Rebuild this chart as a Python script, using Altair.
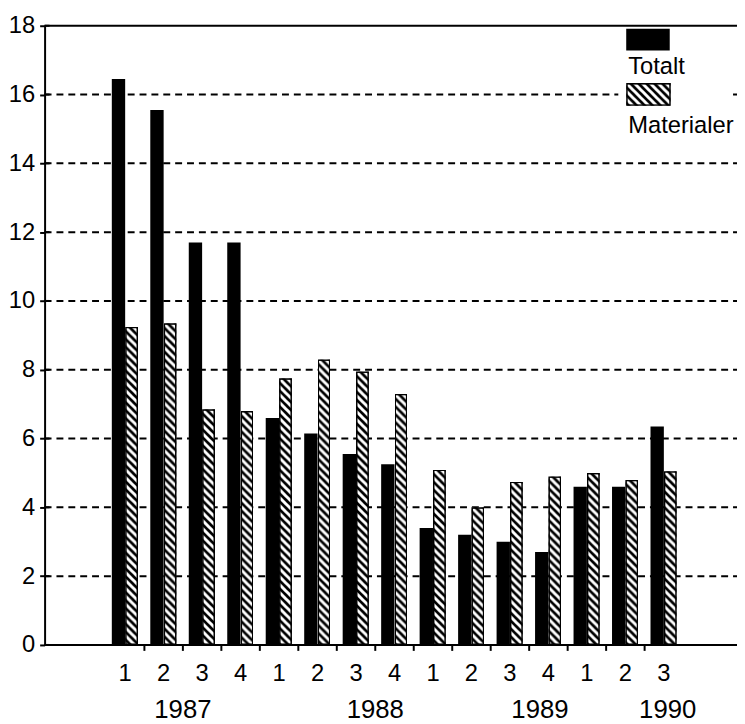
import urllib.parse
import altair as alt
import pandas as pd

# ---------------- data ----------------
years = ["1987"] * 4 + ["1988"] * 4 + ["1989"] * 4 + ["1990"] * 3
quarters = ["1", "2", "3", "4", "1", "2", "3", "4", "1", "2", "3", "4", "1", "2", "3"]
totalt = [16.45, 15.55, 11.7, 11.7, 6.6, 6.15, 5.55, 5.25, 3.4, 3.2, 3.0, 2.7, 4.6, 4.6, 6.35]
materialer = [9.25, 9.35, 6.85, 6.8, 7.75, 8.3, 7.95, 7.3, 5.1, 4.0, 4.75, 4.9, 5.0, 4.8, 5.05]
series = ["Totalt", "Materialer"]
year_labels = ["1987", "1988", "1989", "1990"]
year_anchor = ["1987-3", "1988-4", "1989-4", "1990-3"]
y_ticks = [0, 2, 4, 6, 8, 10, 12, 14, 16, 18]

# layout (fraction of a quarter band where each year label sits)
year_shift = [0.0, 0.0, 0.28, 0.6]

cats = [f"{y}-{q}" for y, q in zip(years, quarters)]
df = pd.DataFrame({"period": cats, "Totalt": totalt, "Materialer": materialer})
year_df = pd.DataFrame({"year": year_labels, "period": year_anchor, "shift": year_shift})
tick_df = pd.DataFrame({"v": y_ticks})
one = pd.DataFrame({"k": [0]})

FONT = "Liberation Sans"
BAND = 38.9
W, H = 700, 626

hatch_svg = (
    "<svg xmlns='http://www.w3.org/2000/svg' width='100%' height='100%'>"
    "<defs><pattern id='h' patternUnits='userSpaceOnUse' width='8' height='8'>"
    "<rect width='8' height='8' fill='black'/>"
    "<path d='M-2,-2L10,10M-10,-2L2,10M6,-2L18,10' stroke='white' stroke-width='3'/>"
    "</pattern></defs>"
    "<rect width='100%' height='100%' fill='url(#h)' stroke='black' stroke-width='3'/></svg>"
)
hatch_url = "data:image/svg+xml;charset=utf-8," + urllib.parse.quote(hatch_svg)

x_scale = alt.Scale(domain=cats, range=[62, 62 + 15 * BAND], paddingInner=0, paddingOuter=0)
y_scale = alt.Scale(domain=[0, 18], nice=False)

x_axis = alt.Axis(
    title=None,
    labelExpr="split(datum.value, '-')[1]",
    labelAngle=0,
    labelFontSize=24,
    labelFont=FONT,
    labelColor="black",
    labelPadding=17,
    ticks=False,
    tickSize=0,
    domain=False,
    grid=False,
)
y_axis = alt.Axis(
    title=None,
    values=y_ticks,
    labelFontSize=24,
    labelFont=FONT,
    labelColor="black",
    labelPadding=5,
    tickSize=5,
    tickWidth=2,
    tickColor="black",
    domainColor="black",
    domainWidth=2,
    grid=False,
)

x_enc = alt.X("period:N", scale=x_scale, axis=x_axis)

grid = alt.Chart(tick_df).transform_filter("datum.v > 0 && datum.v < 18").mark_rule(
    color="black", strokeWidth=2, strokeDash=[7, 5]
).encode(y=alt.Y("v:Q", scale=y_scale, axis=y_axis), x=alt.value(0), x2=alt.value(W))

ytick_in = alt.Chart(tick_df).mark_rule(color="black", strokeWidth=2).encode(
    y=alt.Y("v:Q", scale=y_scale), x=alt.value(0), x2=alt.value(5)
)

bars_t = alt.Chart(df).mark_bar(color="black", width=13.5, xOffset=-6.75).encode(
    x=x_enc, y=alt.Y("Totalt:Q", scale=y_scale, axis=y_axis)
)
bars_m = alt.Chart(df).mark_image(url=hatch_url, width=13, aspect=False, xOffset=6.5).encode(
    x=x_enc, y=alt.Y("Materialer:Q", scale=y_scale), y2=alt.datum(0)
)

xticks = alt.Chart(df).transform_filter("datum.period !== '1987-1'").mark_rule(
    color="black", strokeWidth=2
).encode(
    x=alt.X("period:N", scale=x_scale, axis=x_axis, bandPosition=0),
    y=alt.value(H),
    y2=alt.value(H + 6),
)

top_rule = alt.Chart(one).mark_rule(color="black", strokeWidth=2).encode(
    y=alt.datum(18, scale=y_scale), x=alt.value(0), x2=alt.value(W)
)
base_rule = alt.Chart(one).mark_rule(color="black", strokeWidth=2).encode(
    y=alt.datum(0, scale=y_scale), x=alt.value(0), x2=alt.value(W)
)

legend_bg = alt.Chart(one).mark_rect(color="white").encode(
    x=alt.value(580), x2=alt.value(695), y=alt.value(0), y2=alt.value(118)
)
leg_black = alt.Chart(one).mark_rect(color="black").encode(
    x=alt.value(588), x2=alt.value(632), y=alt.value(3), y2=alt.value(25)
)
leg_hatch = alt.Chart(one).mark_image(url=hatch_url, aspect=False).encode(
    x=alt.value(588), x2=alt.value(633), y=alt.value(58), y2=alt.value(81)
)
leg_t1 = alt.Chart(one).mark_text(
    align="left", baseline="middle", font=FONT, fontSize=24, color="black"
).encode(x=alt.value(590), y=alt.value(42), text=alt.value(series[0]))
leg_t2 = alt.Chart(one).mark_text(
    align="left", baseline="middle", font=FONT, fontSize=24, color="black"
).encode(x=alt.value(590), y=alt.value(101), text=alt.value(series[1]))

year_text = alt.Chart(year_df).mark_text(
    align="center", baseline="middle", font=FONT, fontSize=26, color="black"
).encode(
    x=x_enc,
    xOffset=alt.XOffset("shift:Q", scale=alt.Scale(domain=[0, 1], range=[0, BAND])),
    y=alt.value(692),
    text="year:N",
)

chart = alt.layer(
    grid, bars_t, bars_m, legend_bg, top_rule, base_rule, ytick_in, xticks,
    leg_black, leg_hatch, leg_t1, leg_t2, year_text
).properties(
    width=W,
    height=H,
    autosize=alt.AutoSizeParams(type="none"),
    padding={"left": 37, "top": 14, "right": 0, "bottom": 78},
    background="white",
).configure_view(strokeWidth=0)

chart.save("out.html", embed_options={"renderer": "svg", "actions": False})
